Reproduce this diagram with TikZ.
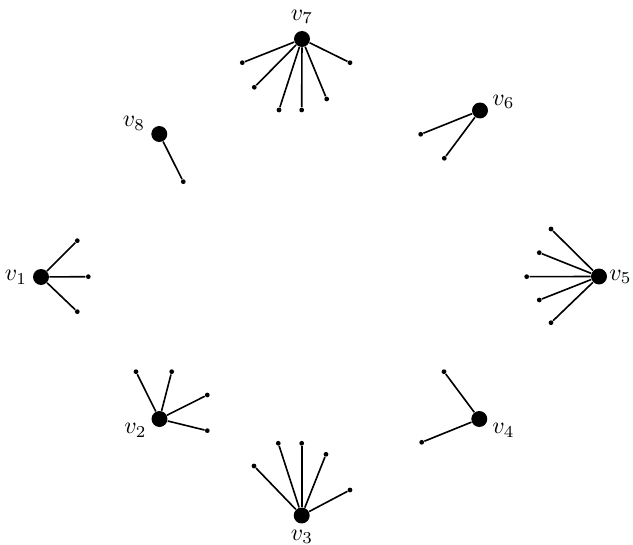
\documentclass[tikz,border=0pt]{standalone}
\begin{document}
\begin{tikzpicture}[x=0.42pt,y=-0.42pt,
  big/.style={circle,fill=black,inner sep=0pt,minimum size=6.7pt},
  leaf/.style={circle,fill=black,inner sep=0pt,minimum size=2pt},
  lab/.style={inner sep=0pt},
  edge/.style={line width=0.68pt}]
\useasboundingbox (0,0) rectangle (633,545);
% main vertices
\node[big] (v1) at (41,277) {};
\node[big] (v2) at (159.5,419) {};
\node[big] (v3) at (301.7,515.5) {};
\node[big] (v4) at (479.3,419) {};
\node[big] (v5) at (599,276.5) {};
\node[big] (v6) at (480,110.5) {};
\node[big] (v7) at (302,39) {};
\node[big] (v8) at (159.3,134) {};
% labels
\node[lab] (l1) at (16,277.5) {$v_1$};
\node[lab] (l2) at (135.5,430.5) {$v_2$};
\node[lab] (l3) at (302,537) {$v_3$};
\node[lab] (l4) at (503.5,430.5) {$v_4$};
\node[lab] (l5) at (620.5,277) {$v_5$};
\node[lab] (l6) at (503.5,102) {$v_6$};
\node[lab] (l7) at (302,17) {$v_7$};
\node[lab] (l8) at (134,123.5) {$v_8$};
% leaves of v1
\node[leaf] (a11) at (77.3,240.7) {};
\node[leaf] (a12) at (88.3,276.7) {};
\node[leaf] (a13) at (77.3,311.7) {};
% leaves of v2
\node[leaf] (a21) at (136,371.7) {};
\node[leaf] (a22) at (171.7,371.7) {};
\node[leaf] (a23) at (207.3,395) {};
\node[leaf] (a24) at (207.3,430.7) {};
% leaves of v3
\node[leaf] (a31) at (254,466) {};
\node[leaf] (a32) at (278.3,443.3) {};
\node[leaf] (a33) at (301.7,443.3) {};
\node[leaf] (a34) at (326,454.3) {};
\node[leaf] (a35) at (350,490) {};
% leaves of v4
\node[leaf] (a41) at (444,371.7) {};
\node[leaf] (a42) at (421.7,442.3) {};
% leaves of v5
\node[leaf] (a51) at (551,229) {};
\node[leaf] (a52) at (539.3,252.7) {};
\node[leaf] (a53) at (526.7,276.7) {};
\node[leaf] (a54) at (539.3,300) {};
\node[leaf] (a55) at (551,322.7) {};
% leaves of v6
\node[leaf] (a61) at (420.7,134.3) {};
\node[leaf] (a62) at (444.3,158.3) {};
% leaves of v7
\node[leaf] (a71) at (242.3,62.7) {};
\node[leaf] (a72) at (254.3,87.3) {};
\node[leaf] (a73) at (279,110) {};
\node[leaf] (a74) at (301.7,110) {};
\node[leaf] (a75) at (326.7,99) {};
\node[leaf] (a76) at (350,62.7) {};
% leaf of v8
\node[leaf] (a81) at (183.3,181.7) {};
% edges
\foreach \v/\list in {v1/{a11,a12,a13},v2/{a21,a22,a23,a24},v3/{a31,a32,a33,a34,a35},v4/{a41,a42},v5/{a51,a52,a53,a54,a55},v6/{a61,a62},v7/{a71,a72,a73,a74,a75,a76},v8/{a81}}
  \foreach \w in \list \draw[edge] (\v) -- (\w);
\end{tikzpicture}
\end{document}
